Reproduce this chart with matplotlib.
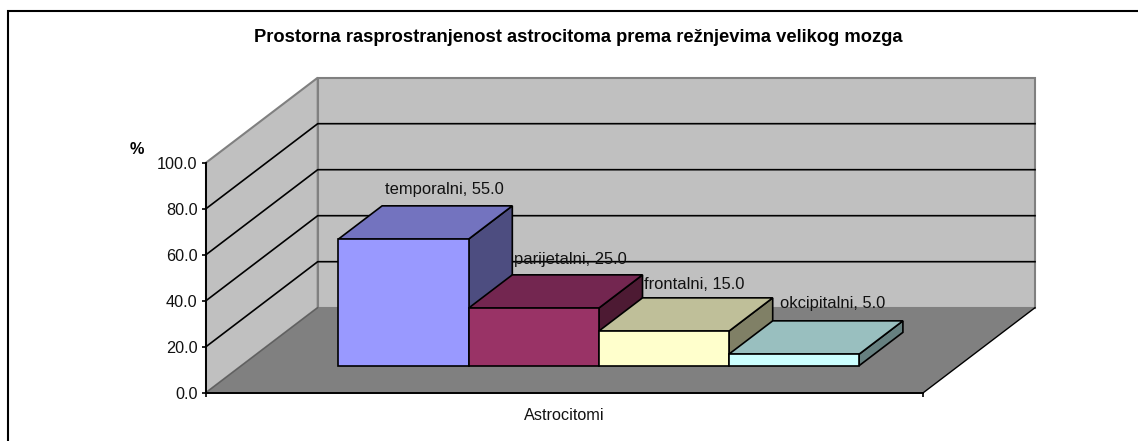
import matplotlib
matplotlib.use("Agg")
import matplotlib.pyplot as plt
from matplotlib.lines import Line2D
from matplotlib.patches import Polygon

TITLE = "Prostorna rasprostranjenost astrocitoma prema režnjevima velikog mozga"
CATEGORY = "Astrocitomi"
LOBES = ["temporalni", "parijetalni", "frontalni", "okcipitalni"]
VALUES = [55.0, 25.0, 15.0, 5.0]
Y_TICKS = [0, 20, 40, 60, 80, 100]

FACE_COLORS = ["#9999FF", "#993366", "#FFFFCC", "#CCFFFF"]
TOP_COLORS = ["#7373BF", "#732650", "#BFBF99", "#99BFBF"]
SIDE_COLORS = ["#4D4D80", "#4D1A33", "#808066", "#668080"]
# label offsets from the middle of the bar top, in pixels
LABEL_OFFSETS = [(19, 33), (15, 32), (8, 30), (17, 34)]

W, H = 1138, 441
X0, X1 = 206.0, 923.3
Y0, Y100 = 392.7, 162.7

# x axis unit = one bar width
BAR_PX = 130.2
X_MAX = (X1 - X0) / BAR_PX
PX_Y = (Y0 - Y100) / 100.0

# wall depth and bar placement inside it
DEPTH_X = 111.7 / BAR_PX
DEPTH_Y = 85.0 / PX_Y
BAR_START = 0.7435
BAR_D0 = 0.318
BAR_D1 = 0.71

plt.rcParams["font.family"] = ["Liberation Sans", "DejaVu Sans"]

fig = plt.figure(figsize=(W / 100, H / 100), dpi=100)

# outer frame is cut off on the right and at the bottom
fig.add_artist(Line2D([7.5 / W, 7.5 / W, 1], [0, 1 - 11 / H, 1 - 11 / H],
                      color="black", lw=1.5, solid_joinstyle="miter"))

ax = fig.add_axes([X0 / W, 1 - Y0 / H, (X1 - X0) / W, (Y0 - Y100) / H])
ax.set_xlim(0, X_MAX)
ax.set_ylim(0, 100)
ax.patch.set_alpha(0)


def pt(x, y, d=0.0):
    # front plane data coords pushed back by depth fraction d
    return (x + d * DEPTH_X, y + d * DEPTH_Y)


def poly(points, fc, ec="black", lw=1.2, z=2):
    ax.add_patch(Polygon(points, closed=True, fc=fc, ec=ec, lw=lw, zorder=z,
                         clip_on=False, joinstyle="miter"))


# walls and floor
poly([pt(0, 0, 1), pt(X_MAX, 0, 1), pt(X_MAX, 100, 1), pt(0, 100, 1)], "#C0C0C0", "#808080", 1.5, 1)
poly([pt(0, 0, 0), pt(0, 0, 1), pt(0, 100, 1), pt(0, 100, 0)], "#C0C0C0", "#808080", 1.5, 1)
poly([pt(0, 0, 0), pt(X_MAX, 0, 0), pt(X_MAX, 0, 1), pt(0, 0, 1)], "#808080", "none", 0, 1.1)

# floor edges
ax.plot(*zip(pt(X_MAX, 0, 0), pt(X_MAX, 0, 1)), color="black", lw=1.0, zorder=1.2, clip_on=False)
ax.plot(*zip(pt(0, 0, 0), pt(0, 0, 1)), color="#606060", lw=1.0, zorder=1.2, clip_on=False)

# gridlines
for v in Y_TICKS[1:-1]:
    ax.plot(*zip(pt(0, v, 0), pt(0, v, 1), pt(X_MAX, v, 1)), color="black", lw=1.2,
            zorder=1.5, clip_on=False)

# bars
for i, v in enumerate(VALUES):
    a = BAR_START + i
    b = a + 1
    poly([pt(b, 0, BAR_D0), pt(b, 0, BAR_D1), pt(b, v, BAR_D1), pt(b, v, BAR_D0)], SIDE_COLORS[i])
    poly([pt(a, v, BAR_D0), pt(b, v, BAR_D0), pt(b, v, BAR_D1), pt(a, v, BAR_D1)], TOP_COLORS[i])
    poly([pt(a, 0, BAR_D0), pt(b, 0, BAR_D0), pt(b, v, BAR_D0), pt(a, v, BAR_D0)], FACE_COLORS[i])

    mid = pt(a + 0.5, v, (BAR_D0 + BAR_D1) / 2)
    off = LABEL_OFFSETS[i]
    ax.annotate(f"{LOBES[i]}, {v:.1f}", mid, xytext=(off[0] * 0.72, off[1] * 0.72),
                textcoords="offset points", ha="center", va="center", fontsize=11.9,
                color="#111111", zorder=5, annotation_clip=False)

# axes
for s in ["top", "right"]:
    ax.spines[s].set_visible(False)
for s in ["left", "bottom"]:
    ax.spines[s].set_linewidth(1.4)
    ax.spines[s].set_zorder(4)
ax.set_yticks(Y_TICKS)
ax.set_yticklabels([f"{v:.1f}" for v in Y_TICKS])
ax.set_xticks([0, X_MAX])
ax.set_xticklabels(["", ""])
ax.tick_params(axis="both", direction="out", length=3, width=1.2, labelsize=11.7, pad=3,
               labelcolor="#111111")
ax.set_xlabel(CATEGORY, fontsize=11.7, labelpad=5.2, color="#111111")

fig.text(136.7 / W, 1 - 150 / H, "%", fontsize=11.7, fontweight="bold", ha="center", va="center")
fig.text(578.5 / W, 1 - 37.5 / H, TITLE, fontsize=13.25, fontweight="bold", ha="center", va="center")

fig.savefig("out.png", dpi=100)
